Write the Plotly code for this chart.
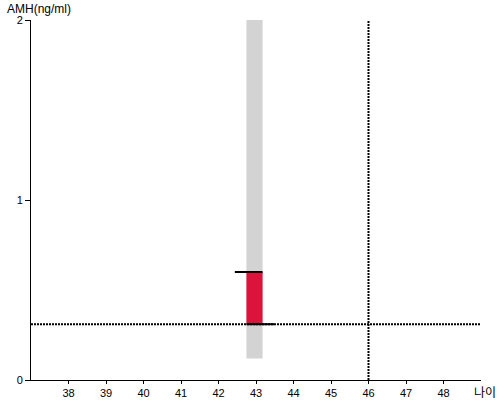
import plotly.graph_objects as go

# data
age = [42.96]
range_low = [0.12]
range_high = [2.0]
amh_low = [0.31]
amh_high = [0.6]
threshold_amh = 0.31
threshold_age = 46
bar_width = 0.43
line_len = 0.74
x_ticks = [38, 39, 40, 41, 42, 43, 44, 45, 46, 47, 48]
y_ticks = [0, 1, 2]

fig = go.Figure()

# grey reference range
fig.add_trace(go.Bar(x=age, y=[range_high[0] - range_low[0]], base=range_low,
                     width=bar_width, marker=dict(color="#d3d3d3", line=dict(width=0)),
                     hoverinfo="skip", showlegend=False))
# red measured range
fig.add_trace(go.Bar(x=age, y=[amh_high[0] - amh_low[0]], base=amh_low,
                     width=bar_width, marker=dict(color="#dc143c", line=dict(width=0)),
                     hoverinfo="skip", showlegend=False))

dot = "2px,1px"
# threshold lines
fig.add_shape(type="line", xref="paper", yref="y", x0=0, x1=1,
              y0=threshold_amh, y1=threshold_amh,
              line=dict(color="black", width=2, dash=dot))
fig.add_shape(type="line", xref="x", yref="paper", x0=threshold_age, x1=threshold_age,
              y0=0, y1=1, line=dict(color="black", width=2, dash=dot))

# top and bottom marker lines
half = bar_width / 2
fig.add_shape(type="line", xref="x", yref="y",
              x0=age[0] + half - line_len, x1=age[0] + half,
              y0=amh_high[0], y1=amh_high[0], line=dict(color="black", width=2))
fig.add_shape(type="line", xref="x", yref="y",
              x0=age[0] - half, x1=age[0] - half + line_len,
              y0=amh_low[0], y1=amh_low[0], line=dict(color="black", width=2))

font = dict(family="Liberation Sans, Arial, sans-serif", size=11, color="black")

fig.update_layout(
    width=500, height=400,
    margin=dict(l=31, r=19, t=20, b=20, autoexpand=False),
    plot_bgcolor="white", paper_bgcolor="white",
    barmode="overlay",
    font=font,
    showlegend=False,
    xaxis=dict(range=[37, 49], tickvals=x_ticks, ticktext=[str(v) for v in x_ticks],
               showgrid=False, zeroline=False, showline=True, linecolor="black", linewidth=1,
               ticks="outside", ticklen=3, tickcolor="black", tickfont=font, automargin=False),
    yaxis=dict(range=[0, 2], tickvals=y_ticks, ticktext=[str(v) for v in y_ticks],
               showgrid=False, zeroline=False, showline=True, linecolor="black", linewidth=1,
               ticks="outside", ticklen=5, tickcolor="black", tickfont=font, automargin=False),
    annotations=[
        dict(text="AMH(ng/ml)", xref="paper", yref="paper", x=0, y=1, xshift=-25, yshift=11,
             xanchor="left", yanchor="middle", showarrow=False, borderpad=0,
             font=dict(family="Liberation Sans, Arial, sans-serif", size=12, color="black")),
        dict(text="나이", xref="paper", yref="paper", x=1, y=0, xshift=-8, yshift=-11,
             xanchor="left", yanchor="middle", showarrow=False, borderpad=0,
             font=dict(family="Noto Sans CJK KR, sans-serif", size=12, color="black")),
    ],
)

fig.write_html("out.html", config={"displayModeBar": False},
               post_script="document.body.style.margin='0';")
